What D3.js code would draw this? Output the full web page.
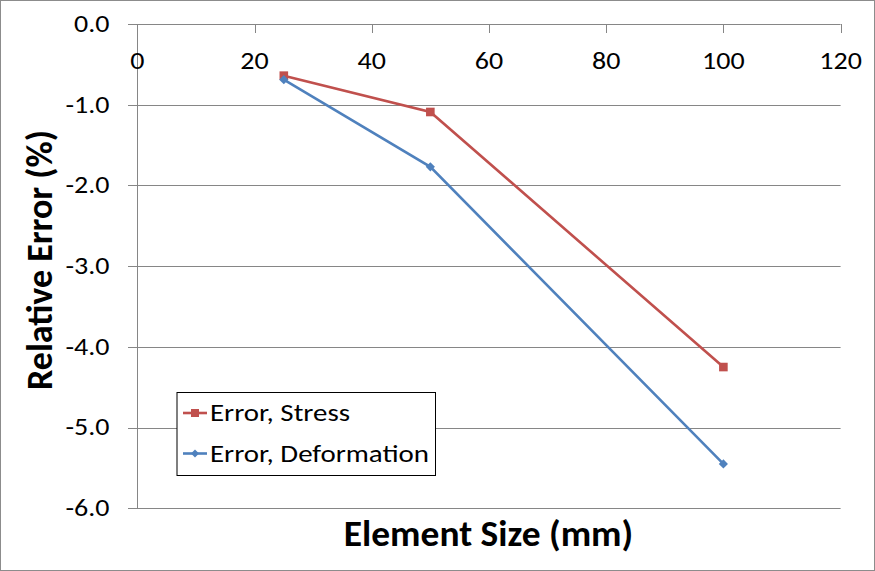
<!DOCTYPE html>
<html><head><meta charset="utf-8">
<script src="https://cdn.jsdelivr.net/npm/d3@7"></script>
<style>body{margin:0;background:#fff}svg{display:block}</style>
</head><body>
<script>
const elementSize = [25, 50, 100];
const errorStress = [-0.64, -1.09, -4.25];
const errorDeformation = [-0.69, -1.77, -5.45];
const xTicks = [0, 20, 40, 60, 80, 100, 120];
const yTicks = [0, -1, -2, -3, -4, -5, -6];
const seriesNames = ["Error, Stress", "Error, Deformation"];

const W = 875, H = 571;
const svg = d3.select("body").append("svg").attr("width", W).attr("height", H);
svg.append("rect").attr("x",0.5).attr("y",0.5).attr("width",W-1).attr("height",H-1)
  .attr("fill","#fff").attr("stroke","#8c8c8c");

const x = d3.scaleLinear().domain([0,120]).range([137.3,840.6]);
const y = d3.scaleLinear().domain([0,-6]).range([24,508.3]);
const font = "Carlito, Calibri, Lato, sans-serif";
const grid = "#868686";

function stext(parent, tx, ty, sx, str, size, anchor, weight) {
  const g = parent.append("g").attr("transform", `translate(${tx},${ty}) scale(${sx},1)`);
  g.append("text").attr("text-anchor", anchor).attr("font-family", font)
    .attr("font-size", size).attr("font-weight", weight || "normal").attr("fill", "#000").text(str);
  return g;
}

// gridlines
svg.append("g").selectAll("line").data(yTicks).join("line")
  .attr("x1",128).attr("x2",840.6)
  .attr("y1",d=>Math.round(y(d))+0.5).attr("y2",d=>Math.round(y(d))+0.5)
  .attr("stroke",grid).attr("stroke-width",1);
svg.append("line").attr("x1",137.5).attr("x2",137.5).attr("y1",24).attr("y2",508.8)
  .attr("stroke",grid);
svg.append("g").selectAll("line").data(xTicks).join("line")
  .attr("x1",d=>Math.round(x(d))+0.5).attr("x2",d=>Math.round(x(d))+0.5)
  .attr("y1",24).attr("y2",33).attr("stroke",grid);

// tick labels
const yl = svg.append("g");
yTicks.forEach(d => stext(yl, 109.5, y(d)+7.8, 1.12, d3.format(".1f")(d).replace("−","-"), 25, "end"));
const xl = svg.append("g");
xTicks.forEach(d => stext(xl, x(d), 69, 1.12, String(d), 25, "middle"));

// titles
svg.append("text").attr("transform","translate(51.7,260) rotate(-90)")
  .attr("text-anchor","middle").attr("font-family",font).attr("font-weight","bold")
  .attr("font-size",36).text("Relative Error (%)");
stext(svg, 488.5, 546, 1.04, "Element Size (mm)", 36, "middle", "bold");

const line = d3.line().x(d=>x(d[0])).y(d=>y(d[1]));
const red = "#C0504D", blue = "#4F81BD";
const dStress = elementSize.map((s,i)=>[s,errorStress[i]]);
const dDef = elementSize.map((s,i)=>[s,errorDeformation[i]]);

svg.append("path").datum(dStress).attr("d",line).attr("fill","none")
  .attr("stroke",red).attr("stroke-width",2.6);
svg.append("g").selectAll("rect").data(dStress).join("rect")
  .attr("x",d=>x(d[0])-4.3).attr("y",d=>y(d[1])-4.3).attr("width",8.6).attr("height",8.6)
  .attr("fill",red);
svg.append("path").datum(dDef).attr("d",line).attr("fill","none")
  .attr("stroke",blue).attr("stroke-width",2.6);
svg.append("g").selectAll("path").data(dDef).join("path")
  .attr("d",d3.symbol(d3.symbolSquare,42))
  .attr("transform",d=>`translate(${x(d[0])},${y(d[1])}) rotate(45)`).attr("fill",blue);

// legend
const lg = svg.append("g");
lg.append("rect").attr("x",177).attr("y",392.5).attr("width",258.5).attr("height",83)
  .attr("fill","#fff").attr("stroke","#000").attr("stroke-width",1);
const rows = [{name:seriesNames[0],c:red,m:"sq",yy:413},{name:seriesNames[1],c:blue,m:"di",yy:453.5}];
rows.forEach(r=>{
  lg.append("line").attr("x1",183).attr("x2",207).attr("y1",r.yy).attr("y2",r.yy)
    .attr("stroke",r.c).attr("stroke-width",2.6);
  if(r.m==="sq") lg.append("rect").attr("x",191).attr("y",r.yy-4).attr("width",8).attr("height",8).attr("fill",r.c);
  else lg.append("path").attr("d",d3.symbol(d3.symbolSquare,32)).attr("transform",`translate(195,${r.yy}) rotate(45)`).attr("fill",r.c);
  stext(lg, 210, r.yy+8, 1.18, r.name, 24.5, "start");
});
</script>
</body></html>
